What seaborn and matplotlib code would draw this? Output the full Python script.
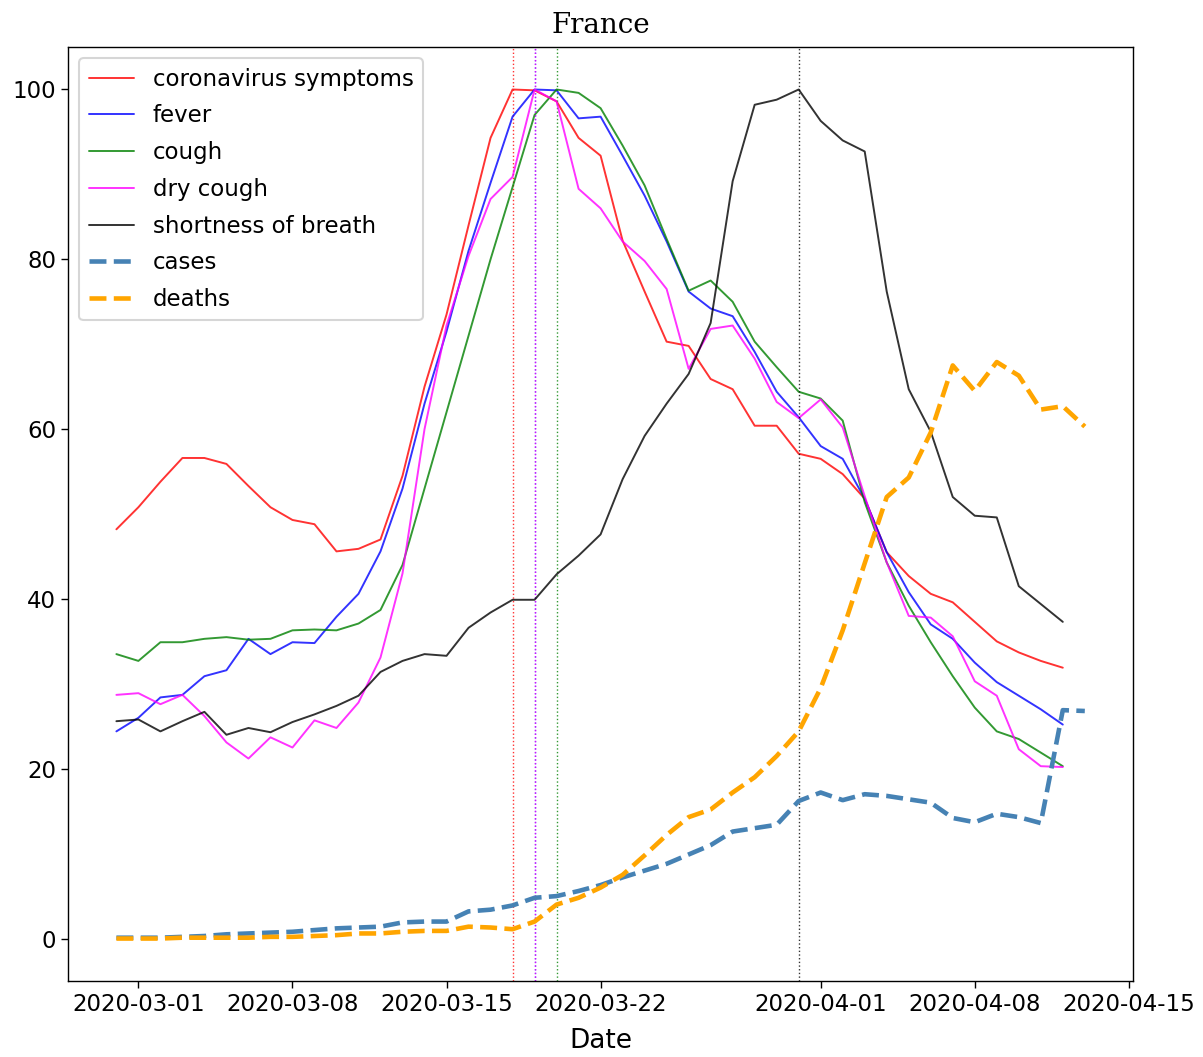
import pandas as pd
import matplotlib.pyplot as plt
import matplotlib.dates as mdates
import seaborn as sns

# Dados (Google Trends normalizado + casos/mortes normalizados) - França
start = "2020-02-29"

symptoms = [48.2, 50.8, 53.8, 56.6, 56.6, 55.9, 53.3, 50.8, 49.3, 48.8,
            45.6, 45.9, 47.0, 54.5, 65.0, 73.5, 84.0, 94.3, 100.0, 99.9,
            98.6, 94.3, 92.2, 82.2, 76.2, 70.3, 69.8, 65.9, 64.7, 60.4,
            60.4, 57.1, 56.5, 54.7, 51.8, 45.5, 42.7, 40.6, 39.6, 37.3,
            35.0, 33.7, 32.7, 31.9]
fever = [24.4, 26.0, 28.4, 28.7, 30.9, 31.6, 35.3, 33.5, 34.9, 34.8,
         37.9, 40.6, 45.6, 53.0, 63.0, 71.5, 81.0, 89.0, 96.8, 100.0,
         99.9, 96.6, 96.8, 92.2, 87.5, 82.1, 76.2, 74.2, 73.3, 69.1,
         64.4, 61.4, 58.0, 56.5, 51.8, 45.5, 40.8, 37.0, 35.3, 32.5,
         30.2, 28.6, 27.0, 25.2]
cough = [33.5, 32.7, 34.9, 34.9, 35.3, 35.5, 35.2, 35.3, 36.3, 36.4,
         36.3, 37.1, 38.7, 44.0, 53.0, 62.0, 71.0, 80.0, 88.5, 97.0,
         100.0, 99.6, 97.8, 93.4, 88.7, 82.4, 76.3, 77.5, 75.0, 70.3,
         67.3, 64.4, 63.6, 61.0, 51.4, 44.3, 39.2, 34.9, 30.9, 27.2,
         24.4, 23.5, 21.9, 20.3]
dry_cough = [28.7, 28.9, 27.6, 28.7, 26.2, 23.1, 21.2, 23.7, 22.5, 25.7,
             24.8, 27.8, 33.1, 43.0, 60.0, 72.2, 80.4, 87.1, 89.7, 100.0,
             98.6, 88.3, 86.0, 82.1, 79.8, 76.5, 67.1, 71.8, 72.2, 68.3,
             63.2, 61.3, 63.5, 60.2, 52.1, 44.3, 38.0, 37.8, 35.6, 30.3,
             28.6, 22.3, 20.3, 20.2]
breath = [25.6, 25.8, 24.4, 25.6, 26.7, 24.0, 24.8, 24.3, 25.5, 26.4,
          27.4, 28.6, 31.4, 32.7, 33.5, 33.3, 36.6, 38.4, 39.9, 39.9,
          42.9, 45.1, 47.6, 54.1, 59.2, 63.0, 66.5, 72.5, 89.2, 98.2,
          98.8, 100.0, 96.3, 94.0, 92.7, 76.2, 64.7, 59.7, 52.0, 49.8,
          49.6, 41.5, 39.4, 37.3]
cases = [0.1, 0.1, 0.1, 0.2, 0.3, 0.5, 0.6, 0.7, 0.8, 1.0,
         1.2, 1.3, 1.4, 1.9, 2.0, 2.0, 3.2, 3.4, 3.9, 4.8,
         5.0, 5.6, 6.3, 7.2, 8.0, 8.8, 9.9, 11.0, 12.6, 13.0,
         13.4, 16.2, 17.2, 16.3, 17.0, 16.8, 16.4, 16.0, 14.2, 13.7,
         14.7, 14.3, 13.6, 26.9, 26.8]
deaths = [0.0, 0.0, 0.0, 0.1, 0.1, 0.1, 0.1, 0.2, 0.2, 0.3,
          0.4, 0.6, 0.6, 0.8, 0.9, 0.9, 1.4, 1.3, 1.1, 2.0,
          4.0, 4.8, 6.0, 7.5, 9.8, 12.2, 14.3, 15.2, 17.2, 19.0,
          21.5, 24.4, 29.5, 36.3, 44.2, 52.0, 54.3, 59.6, 67.5, 64.5,
          67.9, 66.3, 62.3, 62.7, 60.3]

terms = ["coronavirus symptoms", "fever", "cough", "dry cough", "shortness of breath"]
term_values = [symptoms, fever, cough, dry_cough, breath]
term_colors = ["red", "blue", "green", "magenta", "black"]

# Configuração visual
sns.set_theme(style="ticks", context="talk")
plt.rcParams.update({
    "axes.edgecolor": "black", "axes.linewidth": 1.0,
    "text.color": "black", "axes.labelcolor": "black",
    "xtick.color": "black", "ytick.color": "black",
    "xtick.major.size": 5, "ytick.major.size": 5,
    "xtick.major.width": 1, "ytick.major.width": 1,
})

fig, ax = plt.subplots(figsize=(12.03, 10.57), dpi=100)
fig.subplots_adjust(left=0.0565, right=0.942, top=0.9555, bottom=0.0719)

dates = pd.date_range(start, periods=len(symptoms))
for name, vals, c in zip(terms, term_values, term_colors):
    s = pd.Series(vals, index=dates)
    sns.lineplot(x=s.index, y=s.values, color=c, lw=1.4, alpha=0.8, label=name, ax=ax)
    # linha vertical no pico
    ax.axvline(s.idxmax(), color=c, ls=":", lw=1.0, alpha=0.8)

dates2 = pd.date_range(start, periods=len(cases))
sns.lineplot(x=dates2, y=cases, color="steelblue", lw=3.3, linestyle="--", label="cases", ax=ax)
sns.lineplot(x=dates2, y=deaths, color="orange", lw=3.3, linestyle="--", label="deaths", ax=ax)

ax.set_title("France", family="DejaVu Serif", fontsize=20, pad=10)
ax.set_xlabel("Date", fontsize=19, labelpad=9)
ax.set_ylabel("")
ax.set_yticks([0, 20, 40, 60, 80, 100])
ax.xaxis.set_major_locator(mdates.DayLocator(bymonthday=[1, 8, 15, 22]))
ax.xaxis.set_major_formatter(mdates.DateFormatter("%Y-%m-%d"))
ax.tick_params(labelsize=16.5)

ax.legend(loc="upper left", fontsize=16.5, frameon=True, framealpha=0.8,
          edgecolor="0.8", fancybox=True, labelspacing=0.6)

plt.savefig("out.png", dpi=100)
